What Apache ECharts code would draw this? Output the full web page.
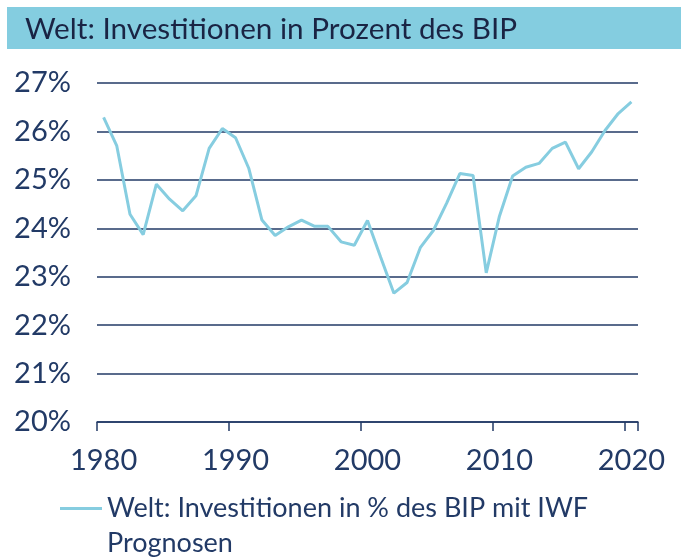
<!DOCTYPE html>
<html><head><meta charset="utf-8">
<script src="https://cdn.jsdelivr.net/npm/echarts@6/dist/echarts.min.js"></script>
<style>html,body{margin:0;padding:0;background:#fff}#c{width:681px;height:559px}</style>
</head><body><div id="c"></div>
<script>
const titleText = 'Welt: Investitionen in Prozent des BIP';
const seriesName = 'Welt: Investitionen in % des BIP mit IWF Prognosen';
const legendLines = ['Welt: Investitionen in % des BIP mit IWF', 'Prognosen'];
const years = [];
for (let y = 1980; y <= 2020; y++) years.push(String(y));
const values = [26.29,25.70,24.29,23.87,24.91,24.60,24.36,24.67,25.65,26.06,
  25.87,25.24,24.17,23.85,24.03,24.17,24.04,24.04,23.72,23.65,
  24.16,23.40,22.66,22.88,23.60,23.96,24.52,25.13,25.09,23.08,
  24.25,25.08,25.26,25.34,25.65,25.78,25.23,25.58,26.02,26.37,26.61];
const navy = '#223a66';
const lineColor = '#86cde0';
const font = 'Lato';
const chart = echarts.init(document.getElementById('c'));
chart.setOption({
  animation: false,
  textStyle: {fontFamily: font},
  graphic: [
    {type: 'rect', left: 7, top: 7, shape: {width: 674, height: 42}, style: {fill: '#84cde0'}, silent: true},
    {type: 'text', x: 25, y: 29, style: {text: titleText, fontSize: 29.7, fontFamily: font, fill: '#1a2444', verticalAlign: 'middle'}}
  ],
  grid: {left: 97, right: 43, top: 83, bottom: 137},
  legend: {
    left: 55, top: 451, itemWidth: 42, itemHeight: 3, icon: 'rect',
    data: [seriesName],
    itemStyle: {color: lineColor},
    formatter: () => '\n' + legendLines.join('\n'),
    textStyle: {fontSize: 27, color: navy, lineHeight: 35, fontFamily: font}
  },
  xAxis: {
    type: 'category', data: years, boundaryGap: true,
    axisLine: {lineStyle: {color: navy, width: 1.5}},
    axisTick: {show: true, interval: 9, length: 9, lineStyle: {color: navy, width: 1.5}},
    axisLabel: {interval: 9, fontSize: 29, color: navy, margin: 24}
  },
  yAxis: {
    type: 'value', min: 20, max: 27, interval: 1,
    axisLine: {show: false}, axisTick: {show: false},
    axisLabel: {formatter: '{value}%', fontSize: 29, color: navy, margin: 26},
    splitLine: {lineStyle: {color: navy, width: 1.5}}
  },
  series: [{
    name: seriesName, type: 'line', data: values, symbol: 'none',
    lineStyle: {color: lineColor, width: 3}, itemStyle: {color: lineColor}
  }]
});
</script></body></html>
